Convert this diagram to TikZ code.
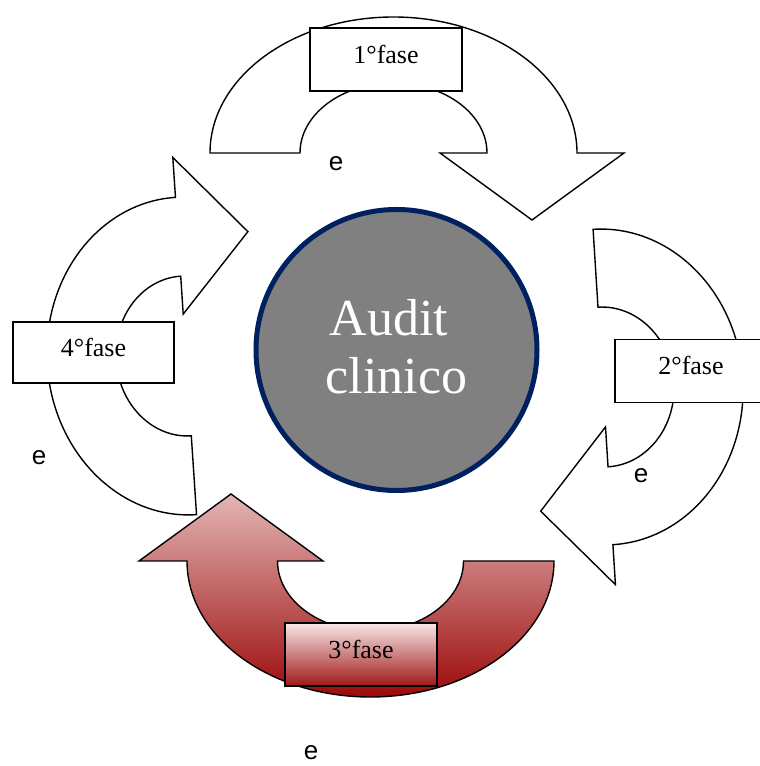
\documentclass[tikz,border=0pt]{standalone}
\usepackage{fontspec}
\setmainfont{Liberation Serif}
\newfontfamily\esans{Liberation Sans}
\begin{document}
\begin{tikzpicture}[x=1pt,y=1pt,
 outline/.style={draw=black,line width=1.4pt,line join=miter},
 phasebox/.style={draw=black,line width=1.4pt,fill=white,minimum width=152pt,minimum height=63pt,inner sep=0pt,
  text height=18pt,text depth=10pt,font=\fontsize{26}{30}\selectfont},
 elabel/.style={font=\esans\fontsize{26}{30}\selectfont,inner sep=0pt}]
 \definecolor{ringline}{HTML}{002060}
 \definecolor{ringfill}{HTML}{808080}
 \definecolor{redtop}{HTML}{E3B5B5}
 \definecolor{redbot}{HTML}{9C0A0A}
 \definecolor{boxtop}{HTML}{F8E8E8}
 \definecolor{boxbot}{HTML}{A01818}
 \useasboundingbox (0,0) rectangle (760,766);
 \clip (0,0) rectangle (760,766);
 \draw [outline,fill=white] (210,613) -- (300,613) arc (180:0:93.5 and 70) -- (440,613) --
  (532,546) -- (624,613) -- (577,613) arc (0:180:183.5 and 136) -- cycle;
 \begin{scope}[shift={(603,379)},rotate=3.6]
  \draw [outline,fill=white] (0,158) arc (90:-90:140 and 158) -- (0,-198) -- (-70,-120) --
   (0,-40) -- (0,-80) arc (-90:90:71 and 80) -- cycle;
 \end{scope}
 \shadedraw [outline,top color=redtop,bottom color=redbot] (554,205) arc (0:-180:183.5 and 136) -- (139,205) --
  (231,272) -- (323,205) -- (277.5,205) arc (180:360:93 and 70) -- cycle;
 \begin{scope}[shift={(186,410)},rotate=183.8]
  \draw [outline,fill=white] (0,159) arc (90:-90:139 and 159) -- (0,-199) -- (-70,-120) --
   (0,-42) -- (0,-80) arc (-90:90:70 and 80) -- cycle;
 \end{scope}
 \node [phasebox] (fase1) at (386,706.5) {1°fase};
 \node [phasebox] (fase2) at (691,395) {2°fase};
 \node [phasebox,top color=boxtop,bottom color=boxbot] (fase3) at (361,111.5) {3°fase};
 \node [phasebox,minimum width=161pt,minimum height=61pt] (fase4) at (93.5,413.5) {4°fase};
 \node [circle,draw=ringline,line width=5pt,fill=ringfill,minimum size=281pt,text=white,align=center,
  text depth=7pt,font=\fontsize{52}{58}\selectfont] (audit) at (396.5,416) {Audit\kern15pt\\clinico};
 \node [elabel] (e1) at (336,602) {e};
 \node [elabel] (e2) at (641,290) {e};
 \node [elabel] (e3) at (39,308) {e};
 \node [elabel] (e4) at (311,13) {e};
\end{tikzpicture}
\end{document}
